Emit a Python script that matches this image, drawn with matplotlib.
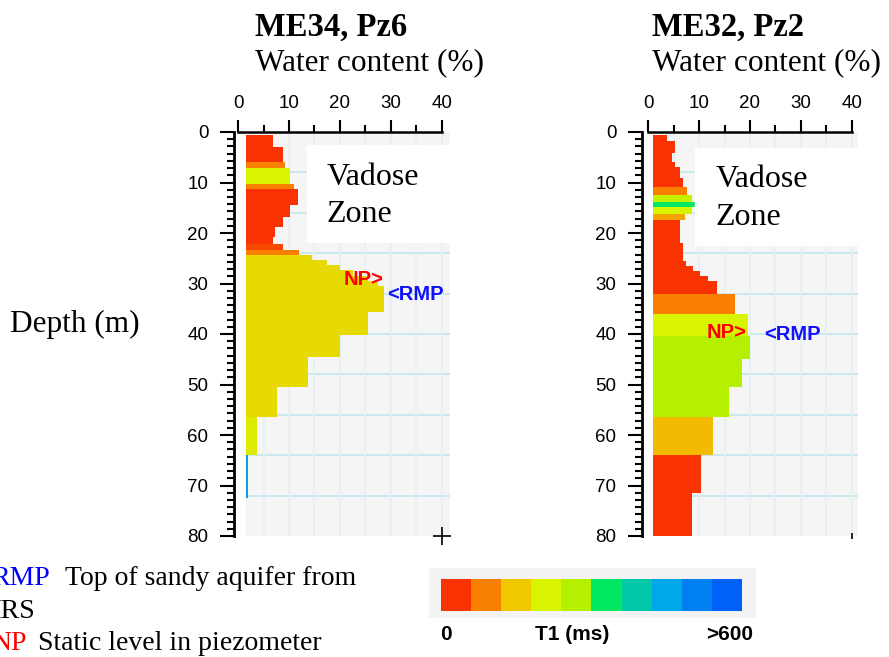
import matplotlib
matplotlib.use("Agg")
import numpy as np
import matplotlib.pyplot as plt
from matplotlib.colors import LinearSegmentedColormap
from matplotlib.patches import Rectangle
from matplotlib.ticker import MultipleLocator, AutoMinorLocator

plt.rcParams['font.family'] = ['Liberation Sans', 'DejaVu Sans']
SERIF = ['Liberation Serif', 'DejaVu Serif']

# T1 colour classes of the legend bar, 0 ms -> >600 ms
T1_COLORS = ['#f83200', '#f88000', '#f0c800', '#d8f400', '#b4f000',
             '#00e860', '#00c8a8', '#00a8e8', '#0080f0', '#0060f8']
T1_LABELS = ["0", "T1 (ms)", ">600"]

# ME34, Pz6: layer boundaries (m), water content (%), T1 class
ME34_DEPTH = [0.6, 2.9, 5.9, 7.2, 10.2, 11.2, 14.5, 16.8, 18.8, 20.8, 22.1, 23.4,
              24.4, 25.4, 26.4, 27.3, 28.6, 29.5, 30.5, 35.7, 40.2, 44.6, 50.5,
              56.4, 64.0, 72.5]
ME34_WATER = [6.9, 8.9, 9.3, 10.2, 11.0, 11.8, 10.2, 8.9, 7.2, 6.9, 8.9, 12.0,
              14.5, 17.4, 20.0, 22.5, 25.5, 27.5, 28.6, 25.6, 20.0, 13.7, 7.7,
              3.8, 1.9]
ME34_T1 = [0, 0, 1, 3, 1, 0, 0, 0, 0, 0, 0.3, 1,
           2.4, 2.4, 2.4, 2.4, 2.4, 2.4, 2.4, 2.4, 2.4, 2.4, 2.4,
           2.8, 7]

# ME32, Pz2
ME32_DEPTH = [0.5, 1.8, 4.2, 5.9, 6.9, 9.2, 10.8, 12.5, 13.9, 14.9, 16.2, 17.4,
              22.0, 25.5, 26.6, 27.6, 28.6, 29.6, 32.1, 36.0, 40.3, 45.0, 50.4,
              56.5, 64.0, 71.5, 80.0]
ME32_WATER = [3.7, 5.3, 4.6, 5.3, 6.3, 6.9, 7.6, 8.6, 9.2, 8.6, 7.3, 6.3,
              6.8, 7.5, 8.8, 10.2, 11.8, 13.5, 17.0, 19.7, 20.0, 18.4, 15.8,
              12.7, 10.3, 8.6]
ME32_T1 = [0, 0, 0, 0, 0, 0, 1, 3.5, 5, 3, 1.5, 0,
           0, 0, 0, 0, 0, 0, 1, 3, 4, 4, 4,
           1.8, 0, 0]

# positions of the NP / RMP markers (water %, depth m)
ME34_NP = (28.5, 29.2)
ME34_RMP = (29.2, 32.1)
ME32_NP = (19.4, 39.7)
ME32_RMP = (22.7, 40.0)

cmap = LinearSegmentedColormap.from_list("t1", T1_COLORS)

W, H = 889, 657
fig = plt.figure(figsize=(W / 100, H / 100), dpi=100)


def px_rect(x0, x1, y0, y1):
    return [x0 / W, 1 - y1 / H, (x1 - x0) / W, (y1 - y0) / H]


def draw_panel(rect, xlim, base, depth, water, t1, title, title_x, np_pos, rmp_pos,
               box_x, box_y, vad_x, vad_y, corner):
    ax = fig.add_axes(rect)
    ax.set_xlim(*xlim)
    ax.set_ylim(80, 0)

    # grey plot area with faint grid
    ax.add_patch(Rectangle((base, 0), xlim[1] - base, 80, color='#f5f5f5', zorder=0))
    ax.hlines(np.arange(8, 80, 8), base, xlim[1], color='#c4e6ee', lw=1.2, zorder=1)
    ax.vlines(np.arange(5, 41, 5), 0, 80, color='#e2f1f5', lw=1.2, zorder=1)

    depth = np.array(depth)
    water = np.array(water)
    cols = [cmap(c / 9) for c in t1]
    ax.barh(depth[:-1], water - base, height=np.diff(depth), left=base,
            align='edge', color=cols, lw=0, zorder=2)

    ax.add_patch(Rectangle((box_x, box_y[0]), xlim[1] - box_x, box_y[1] - box_y[0],
                           color='white', zorder=3))
    ax.text(vad_x, vad_y[0], "Vadose", family=SERIF, fontsize=23, va='baseline', zorder=4)
    ax.text(vad_x, vad_y[1], "Zone", family=SERIF, fontsize=23, va='baseline', zorder=4)

    ax.text(np_pos[0], np_pos[1], "NP>", color='#ff0000', fontsize=14.5,
            fontweight='bold', ha='right', va='center', zorder=5)
    ax.text(rmp_pos[0], rmp_pos[1], "<RMP", color='#1010ff', fontsize=14.5,
            fontweight='bold', ha='left', va='center', zorder=5)

    for s in ['right', 'bottom']:
        ax.spines[s].set_visible(False)
    ax.spines['top'].set_bounds(0, 40)
    ax.spines['top'].set_linewidth(1.8)
    ax.spines['left'].set_linewidth(2.0)

    ax.xaxis.tick_top()
    ax.set_xticks(range(0, 41, 10))
    ax.xaxis.set_minor_locator(MultipleLocator(5))
    ax.set_yticks(range(0, 81, 10))
    ax.yaxis.set_minor_locator(AutoMinorLocator(7))
    ax.tick_params(axis='x', which='major', length=8.6, width=1.5, pad=6, labelsize=13.5)
    ax.tick_params(axis='x', which='minor', length=5, width=1.5)
    ax.tick_params(axis='y', which='major', length=10, width=1.5, pad=8.5, labelsize=13.5)
    ax.tick_params(axis='y', which='minor', length=5, width=1.5)

    ax.plot([40], [80], marker=corner[0], ms=corner[1], mew=1.2, color='k',
            clip_on=False, zorder=6)

    fig.text(title_x / W, 1 - 36 / H, title, family=SERIF, fontsize=23.5,
             fontweight='bold', va='baseline')
    fig.text(title_x / W, 1 - 70 / H, "Water content (%)", family=SERIF,
             fontsize=22.5, va='baseline')
    return ax


draw_panel(px_rect(234, 450, 132, 536), (-0.8, 41.6), 1.6,
           ME34_DEPTH, ME34_WATER, ME34_T1, "ME34, Pz6", 255, ME34_NP, ME34_RMP,
           13.5, (2.6, 21.8), 17.4, (10.5, 17.8), ('+', 13))
draw_panel(px_rect(642, 858, 132, 536), (-1.2, 41.2), 1.0,
           ME32_DEPTH, ME32_WATER, ME32_T1, "ME32, Pz2", 652, ME32_NP, ME32_RMP,
           9.2, (3.2, 22.4), 13.2, (10.8, 18.4), ('|', 5))

fig.text(10 / W, 1 - 331.7 / H, "Depth (m)", family=SERIF, fontsize=22.5, va='baseline')

# legend text at the bottom left (partly cut by the figure edge, as in the source)
leg = [(-9, 585, "RMP", '#0000ff'), (65, 585, "Top of sandy aquifer from", 'k'),
       (-24, 618, "MRS", 'k'),
       (-9, 650, "NP", '#ff0000'), (38, 650, "Static level in piezometer", 'k')]
for x, y, s, c in leg:
    fig.text(x / W, 1 - y / H, s, family=SERIF, fontsize=20, color=c, va='baseline')

# T1 colour scale
cax = fig.add_axes(px_rect(429, 756, 568, 618))
cax.set_facecolor('#f3f3f3')
cax.bar(np.arange(len(T1_COLORS)), 32, bottom=7, width=1, align='edge',
        color=T1_COLORS, lw=0)
cax.set_xlim(-0.4, 10.47)
cax.set_ylim(0, 50)
cax.set_xticks([])
cax.set_yticks([])
for s in cax.spines.values():
    s.set_visible(False)

fig.text(440 / W, 1 - 640 / H, T1_LABELS[0], fontsize=15, fontweight='bold', va='baseline')
fig.text(572 / W, 1 - 640 / H, T1_LABELS[1], fontsize=15, fontweight='bold',
         va='baseline', ha='center')
fig.text(753 / W, 1 - 640 / H, T1_LABELS[2], fontsize=15, fontweight='bold',
         va='baseline', ha='right')

fig.savefig("out.png", dpi=100)
